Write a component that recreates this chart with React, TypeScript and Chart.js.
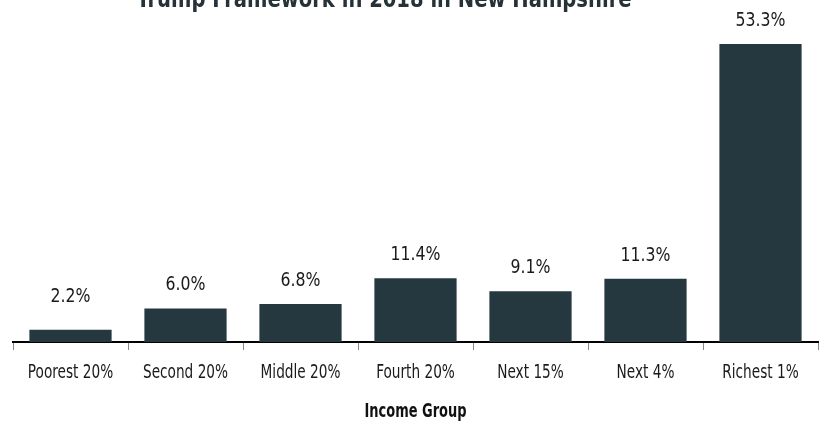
import React, { useEffect, useRef } from "react";
import { Chart, registerables } from "chart.js";

Chart.register(...registerables);

const categories = ["Poorest 20%", "Second 20%", "Middle 20%", "Fourth 20%", "Next 15%", "Next 4%", "Richest 1%"];
const shares = [2.2, 6.0, 6.8, 11.4, 9.1, 11.3, 53.3];
const valueLabels = ["2.2%", "6.0%", "6.8%", "11.4%", "9.1%", "11.3%", "53.3%"];
const titleText = "Trump Framework in 2018 in New Hampshire";
const axisTitle = "Income Group";

const FONT = "'DejaVu Sans Condensed', 'DejaVu Sans', sans-serif";
const BAR = "#26383f";

function condensedText(ctx: CanvasRenderingContext2D, text: string, x: number, y: number, font: string, color: string, sx: number) {
  ctx.save();
  ctx.font = font;
  ctx.fillStyle = color;
  ctx.textAlign = "center";
  ctx.textBaseline = "alphabetic";
  ctx.translate(x, y);
  ctx.scale(sx, 1);
  ctx.fillText(text, 0, 0);
  ctx.restore();
}

export default function App() {
  const ref = useRef<HTMLCanvasElement | null>(null);
  useEffect(() => {
    if (!ref.current) return;
    const textPlugin = {
      id: "texts",
      afterDraw(chart: any) {
        const ctx = chart.ctx;
        const meta = chart.getDatasetMeta(0);
        const yScale = chart.scales.y;
        const xScale = chart.scales.x;
        const base = yScale.getPixelForValue(0);
        const area = chart.chartArea;
        meta.data.forEach((el: any, i: number) => {
          const top = Math.min(el.y, base - 22);
          condensedText(ctx, valueLabels[i], el.x, top - 18, `19px ${FONT}`, "#1a1a1a", 0.92);
        });
        categories.forEach((c, i) => {
          const x = xScale.getPixelForValue(i);
          condensedText(ctx, c, x, base + 36, `19px ${FONT}`, "#1a1a1a", 0.8);
        });
        const cx = (area.left + area.right) / 2;
        condensedText(ctx, axisTitle, cx, base + 75, `bold 19px ${FONT}`, "#111111", 0.76);
        condensedText(ctx, titleText, 384, 7, `bold 25px ${FONT}`, "#263238", 0.87);
      },
    };
    const chart = new Chart(ref.current, {
      type: "bar",
      data: {
        labels: categories,
        datasets: [
          {
            data: shares,
            backgroundColor: BAR,
            barPercentage: 0.715,
            categoryPercentage: 1,
          },
        ],
      },
      options: {
        animation: false,
        responsive: false,
        layout: { padding: { top: 29, left: 13, right: 5, bottom: 75 } },
        plugins: { legend: { display: false }, tooltip: { enabled: false }, title: { display: false } },
        scales: {
          y: { display: false, min: 0, max: 56 },
          x: {
            grid: { offset: true, drawOnChartArea: false, tickLength: 8, tickColor: "#888888", tickWidth: 1 },
            border: { color: "#000000", width: 2 },
            ticks: { display: false },
            title: { display: false },
          },
        },
      },
      plugins: [textPlugin],
    });
    return () => chart.destroy();
  }, []);
  return (
    <div style={{ position: "absolute", left: 0, top: 0, width: 823, height: 425, background: "#fff" }}>
      <canvas ref={ref} width={823} height={425} />
    </div>
  );
}
